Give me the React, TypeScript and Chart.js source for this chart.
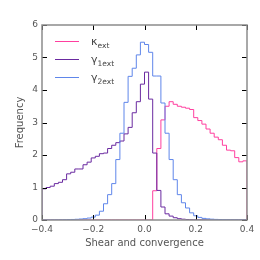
import React, { useEffect, useRef } from "react";
import { Chart, registerables } from "chart.js";

Chart.register(...registerables);

// Histogram: 50 bins of width 0.016 from -0.4 to 0.4 (density values)
const BIN_START = -0.4;
const BIN_WIDTH = 0.016;
const BIN_COUNT = 50;

const KAPPA_EXT = [
  0, 0, 0, 0, 0, 0, 0, 0, 0, 0,
  0, 0, 0, 0, 0, 0, 0, 0, 0, 0,
  0, 0, 0, 0, 0, 0, 0, 0.9, 2.2, 3.08,
  3.5, 3.64, 3.56, 3.5, 3.47, 3.44, 3.4, 3.15, 3.06, 2.95,
  2.8, 2.67, 2.55, 2.47, 2.3, 2.15, 2.13, 1.92, 1.79, 1.82,
];

const GAMMA1_EXT = [
  0.96, 1.0, 1.04, 1.12, 1.16, 1.24, 1.42, 1.47, 1.57, 1.57,
  1.7, 1.78, 1.91, 1.96, 2.04, 2.06, 2.2, 2.3, 2.38, 2.43,
  2.65, 2.85, 3.3, 3.64, 4.18, 4.55, 3.72, 2.06, 0.91, 0.4,
  0.19, 0.12, 0.07, 0.04, 0.025, 0.015, 0.01, 0.008, 0.006, 0.005,
  0.004, 0.004, 0.003, 0.003, 0.002, 0.002, 0.002, 0.001, 0.001, 0.001,
];

const GAMMA2_EXT = [
  0.002, 0.003, 0.004, 0.005, 0.007, 0.009, 0.012, 0.016, 0.022, 0.03,
  0.04, 0.06, 0.09, 0.15, 0.27, 0.5, 0.78, 1.12, 1.86, 2.67,
  3.62, 4.42, 4.67, 5.08, 5.47, 5.4, 5.16, 4.43, 4.43, 3.6,
  2.67, 1.86, 1.24, 0.78, 0.53, 0.37, 0.22, 0.13, 0.08, 0.05,
  0.035, 0.025, 0.018, 0.013, 0.01, 0.007, 0.005, 0.004, 0.003, 0.002,
];

const SERIES_LABELS = [
  { main: "κ", sub: "ext" },
  { main: "γ", sub: "1ext" },
  { main: "γ", sub: "2ext" },
];
const SERIES_COLORS = ["#ff3f9f", "#6a2aa0", "#5f86ea"];

const X_TICKS = [-0.4, -0.2, 0.0, 0.2, 0.4];
const Y_TICKS = [0, 1, 2, 3, 4, 5, 6];
const X_TITLE = "Shear and convergence";
const Y_TITLE = "Frequency";

const FONT = "'DejaVu Sans', sans-serif";

function stepPoints(values: number[]) {
  const pts: { x: number; y: number }[] = [];
  const edge = (k: number) => BIN_START + k * BIN_WIDTH;
  pts.push({ x: edge(0), y: 0 });
  for (let k = 0; k < BIN_COUNT; k++) pts.push({ x: edge(k), y: values[k] });
  pts.push({ x: edge(BIN_COUNT), y: values[BIN_COUNT - 1] });
  pts.push({ x: edge(BIN_COUNT), y: 0 });
  return pts;
}

function fmtX(v: number) {
  const s = Math.abs(v).toFixed(1);
  return v < -1e-9 ? "\u2212" + s : s;
}

const framePlugin = {
  id: "frameAndLegend",
  afterDraw(chart: any) {
    const { ctx, chartArea } = chart;
    const { left, right, top, bottom } = chartArea;
    const xs = chart.scales.x;
    const ys = chart.scales.y;
    ctx.save();
    // ticks (inward, all four sides)
    ctx.strokeStyle = "#000";
    ctx.lineWidth = 1;
    const TL = 5;
    ctx.beginPath();
    X_TICKS.forEach((v) => {
      const px = Math.round(xs.getPixelForValue(v)) + 0.5;
      ctx.moveTo(px, bottom);
      ctx.lineTo(px, bottom - TL);
      ctx.moveTo(px, top);
      ctx.lineTo(px, top + TL);
    });
    Y_TICKS.forEach((v) => {
      const py = Math.round(ys.getPixelForValue(v)) + 0.5;
      ctx.moveTo(left, py);
      ctx.lineTo(left + TL, py);
      ctx.moveTo(right, py);
      ctx.lineTo(right - TL, py);
    });
    ctx.stroke();
    // frame
    ctx.strokeStyle = "#8c8c8c";
    ctx.lineWidth = 1.5;
    ctx.strokeRect(left, top, right - left, bottom - top);

    // legend
    const rows = [41, 59, 77];
    SERIES_LABELS.forEach((lab, i) => {
      const y = rows[i];
      ctx.strokeStyle = SERIES_COLORS[i];
      ctx.lineWidth = 1;
      ctx.beginPath();
      ctx.moveTo(55, y + 0.5);
      ctx.lineTo(79, y + 0.5);
      ctx.stroke();
      ctx.fillStyle = "#444";
      ctx.textAlign = "left";
      ctx.textBaseline = "alphabetic";
      ctx.font = `11px ${FONT}`;
      ctx.fillText(lab.main, 91, y + 4);
      const w = ctx.measureText(lab.main).width;
      ctx.font = `7.5px ${FONT}`;
      ctx.fillText(lab.sub, 91 + w, y + 6.5);
    });
    ctx.restore();
  },
};

export default function App() {
  const ref = useRef<HTMLCanvasElement>(null);
  useEffect(() => {
    if (!ref.current) return;
    const seriesValues = [KAPPA_EXT, GAMMA1_EXT, GAMMA2_EXT];
    const chart = new Chart(ref.current, {
      type: "line",
      data: {
        datasets: seriesValues.map((vals, i) => ({
          label: SERIES_LABELS[i].main + SERIES_LABELS[i].sub,
          data: stepPoints(vals),
          borderColor: SERIES_COLORS[i],
          backgroundColor: SERIES_COLORS[i],
          borderWidth: 1,
          pointRadius: 0,
          stepped: true,
          fill: false,
          order: 3 - i,
        })),
      },
      options: {
        animation: false,
        responsive: false,
        layout: { padding: { left: 0, right: 13, top: 25, bottom: 0 } },
        plugins: { legend: { display: false }, tooltip: { enabled: false } },
        scales: {
          x: {
            type: "linear",
            min: -0.4,
            max: 0.4,
            grid: { display: false, drawTicks: false },
            border: { display: false },
            afterBuildTicks: (s: any) => {
              s.ticks = X_TICKS.map((v) => ({ value: v }));
            },
            afterFit: (s: any) => {
              s.height = 40;
            },
            ticks: {
              autoSkip: false,
              maxRotation: 0,
              padding: 4,
              color: "#555",
              font: { family: FONT, size: 9 },
              callback: (v: any) => fmtX(Number(v)),
            },
            title: {
              display: true,
              text: X_TITLE,
              color: "#555",
              font: { family: FONT, size: 10 },
              padding: { top: 0, bottom: 11 },
            },
          },
          y: {
            type: "linear",
            min: 0,
            max: 6,
            grid: { display: false, drawTicks: false },
            border: { display: false },
            afterBuildTicks: (s: any) => {
              s.ticks = Y_TICKS.map((v) => ({ value: v }));
            },
            afterFit: (s: any) => {
              s.width = 42;
            },
            ticks: {
              padding: 4,
              color: "#555",
              font: { family: FONT, size: 9 },
              callback: (v: any) => String(v),
            },
            title: {
              display: true,
              text: Y_TITLE,
              color: "#555",
              font: { family: FONT, size: 10 },
              padding: { top: 14, bottom: 0 },
            },
          },
        },
      },
      plugins: [framePlugin],
    });
    return () => chart.destroy();
  }, []);
  return (
    <div style={{ position: "fixed", left: 0, top: 0, width: 260, height: 260, background: "#fff" }}>
      <canvas ref={ref} width={260} height={260} style={{ display: "block" }} />
    </div>
  );
}
